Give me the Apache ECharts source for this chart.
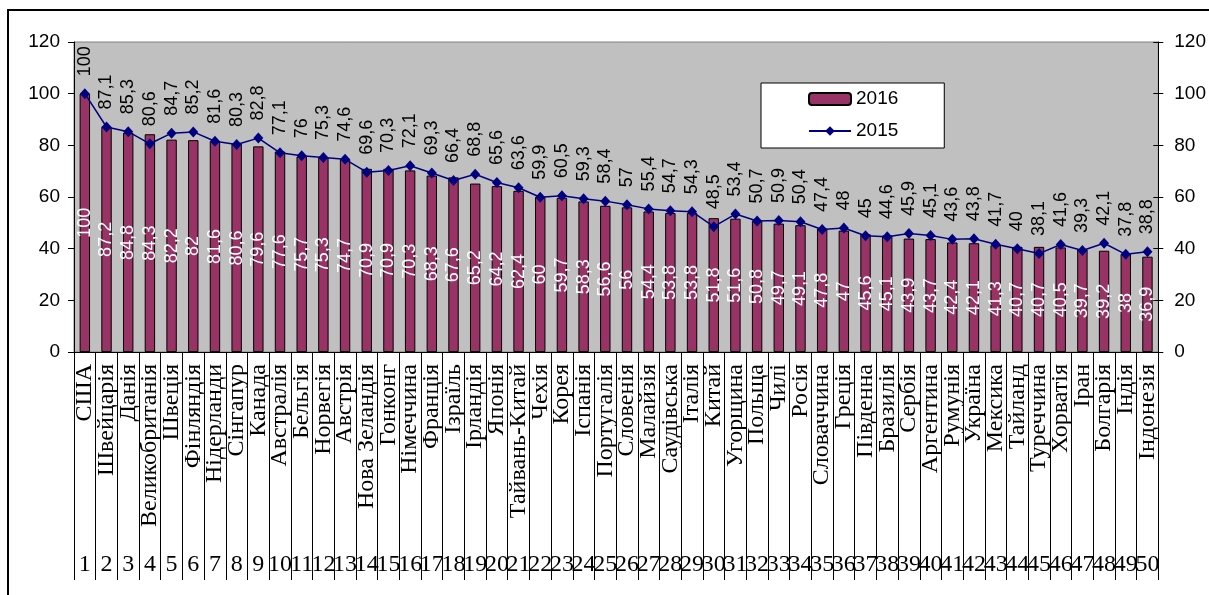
<!DOCTYPE html>
<html>
<head>
<meta charset="utf-8">
<script src="https://cdn.jsdelivr.net/npm/echarts@6/dist/echarts.min.js"></script>
<style>
  html, body { margin: 0; padding: 0; background: #fff; }
  #chart { width: 1209px; height: 595px; }
</style>
</head>
<body>
<div id="chart"></div>
<script>
    // країни в порядку рейтингу
    const countries = ['США', 'Швейцарія', 'Данія', 'Великобританія', 'Швеція', 'Фінляндія', 'Нідерланди', 'Сінгапур', 'Канада', 'Австралія',
        'Бельгія', 'Норвегія', 'Австрія', 'Нова Зеландія', 'Гонконг', 'Німеччина', 'Франція', 'Ізраїль', 'Ірландія', 'Японія',
        'Тайвань-Китай', 'Чехія', 'Корея', 'Іспанія', 'Португалія', 'Словенія', 'Малайзія', 'Саудівська', 'Італія', 'Китай',
        'Угорщина', 'Польща', 'Чилі', 'Росія', 'Словаччина', 'Греція', 'Південна', 'Бразилія', 'Сербія', 'Аргентина',
        'Румунія', 'Україна', 'Мексика', 'Тайланд', 'Туреччина', 'Хорватія', 'Іран', 'Болгарія', 'Індія', 'Індонезія']

    const ranks = countries.map((c, i) => String(i + 1))

    const values2016 = [100, 87.2, 84.8, 84.3, 82.2, 82, 81.6, 80.6, 79.6, 77.6,
        75.7, 75.3, 74.7, 70.9, 70.9, 70.3, 68.3, 67.6, 65.2, 64.2,
        62.4, 60, 59.7, 58.3, 56.6, 56, 54.4, 53.8, 53.8, 51.8,
        51.6, 50.8, 49.7, 49.1, 47.8, 47, 45.6, 45.1, 43.9, 43.7,
        42.4, 42.1, 41.3, 40.7, 40.7, 40.5, 39.7, 39.2, 38, 36.9]

    const values2015 = [100, 87.1, 85.3, 80.6, 84.7, 85.2, 81.6, 80.3, 82.8, 77.1,
        76, 75.3, 74.6, 69.6, 70.3, 72.1, 69.3, 66.4, 68.8, 65.6,
        63.6, 59.9, 60.5, 59.3, 58.4, 57, 55.4, 54.7, 54.3, 48.5,
        53.4, 50.7, 50.9, 50.4, 47.4, 48, 45, 44.6, 45.9, 45.1,
        43.6, 43.8, 41.7, 40, 38.1, 41.6, 39.3, 42.1, 37.8, 38.8]

    const sans = 'Liberation Sans, Arial, sans-serif'
    const serif = 'Liberation Serif, Times New Roman, serif'

    function comma(p) {
        return String(p.value).replace('.', ',')
    }

    const chart = echarts.init(document.getElementById('chart'))

    const option = {
        animation: false,
        backgroundColor: '#fff',
        graphic: [
            {
                type: 'rect',
                shape: { x: 8, y: 10, width: 1220, height: 610 },
                style: { fill: 'none', stroke: '#000', lineWidth: 2 },
                silent: true,
                z: -10
            }
        ],
        legend: {
            orient: 'vertical',
            left: 761,
            top: 83,
            backgroundColor: '#fff',
            borderColor: '#000',
            borderWidth: 1,
            padding: [6, 46, 7, 47],
            itemWidth: 42,
            itemHeight: 12,
            itemGap: 12,
            textStyle: { fontFamily: sans, fontSize: 19, color: '#000', lineHeight: 20 },
            data: ['2016', '2015']
        },
        grid: {
            left: 74,
            right: 47,
            top: 42,
            bottom: 243,
            show: true,
            backgroundColor: '#C0C0C0',
            borderColor: '#808080',
            borderWidth: 1
        },
        xAxis: [
            {
                type: 'category',
                data: countries,
                position: 'bottom',
                axisLine: { lineStyle: { color: '#000', width: 1 } },
                axisTick: { show: true, interval: 0, length: 228, lineStyle: { color: '#000' } },
                axisLabel: {
                    interval: 0,
                    rotate: 90,
                    margin: 12,
                    fontFamily: serif,
                    fontSize: 24,
                    color: '#000'
                },
                splitLine: { show: false }
            },
            {
                type: 'category',
                data: ranks,
                position: 'bottom',
                axisLine: { show: false },
                axisTick: { show: false },
                axisLabel: {
                    interval: 0,
                    margin: 201,
                    fontFamily: serif,
                    fontSize: 24,
                    color: '#000'
                },
                splitLine: { show: false }
            }
        ],
        yAxis: [
            {
                type: 'value',
                min: 0,
                max: 120,
                interval: 20,
                position: 'left',
                axisLine: { show: true, lineStyle: { color: '#000' } },
                axisTick: { show: true, length: 6, lineStyle: { color: '#000' } },
                axisLabel: { margin: 14, fontFamily: sans, fontSize: 19, color: '#000' },
                splitLine: { show: false }
            },
            {
                type: 'value',
                min: 0,
                max: 120,
                interval: 20,
                position: 'right',
                axisLine: { show: true, lineStyle: { color: '#000' } },
                axisTick: { show: true, length: 5, lineStyle: { color: '#000' } },
                axisLabel: { margin: 16, fontFamily: sans, fontSize: 19, color: '#000' },
                splitLine: { show: false }
            },
            {
                type: 'value',
                min: 0,
                max: 120,
                interval: 20,
                position: 'right',
                axisLine: { show: false },
                axisTick: { show: true, inside: true, length: 5, lineStyle: { color: '#000' } },
                axisLabel: { show: false },
                splitLine: { show: false }
            }
        ],
        series: [
            {
                name: '2016',
                type: 'bar',
                data: values2016,
                barWidth: '48%',
                itemStyle: { color: '#993366', borderColor: '#000', borderWidth: 1 },
                label: {
                    show: true,
                    position: 'inside',
                    rotate: 90,
                    formatter: comma,
                    fontFamily: sans,
                    fontSize: 18,
                    color: '#fff'
                },
                z: 2
            },
            {
                name: '2015',
                type: 'line',
                data: values2015,
                symbol: 'diamond',
                symbolSize: [10, 11],
                lineStyle: { color: '#000080', width: 1.5 },
                itemStyle: { color: '#000080' },
                label: {
                    show: true,
                    position: 'top',
                    distance: 15,
                    rotate: 90,
                    align: 'left',
                    verticalAlign: 'middle',
                    offset: [-3, 0],
                    formatter: comma,
                    fontFamily: sans,
                    fontSize: 18,
                    color: '#000'
                },
                z: 3
            }
        ]
    }

    chart.setOption(option)
</script>
</body>
</html>
